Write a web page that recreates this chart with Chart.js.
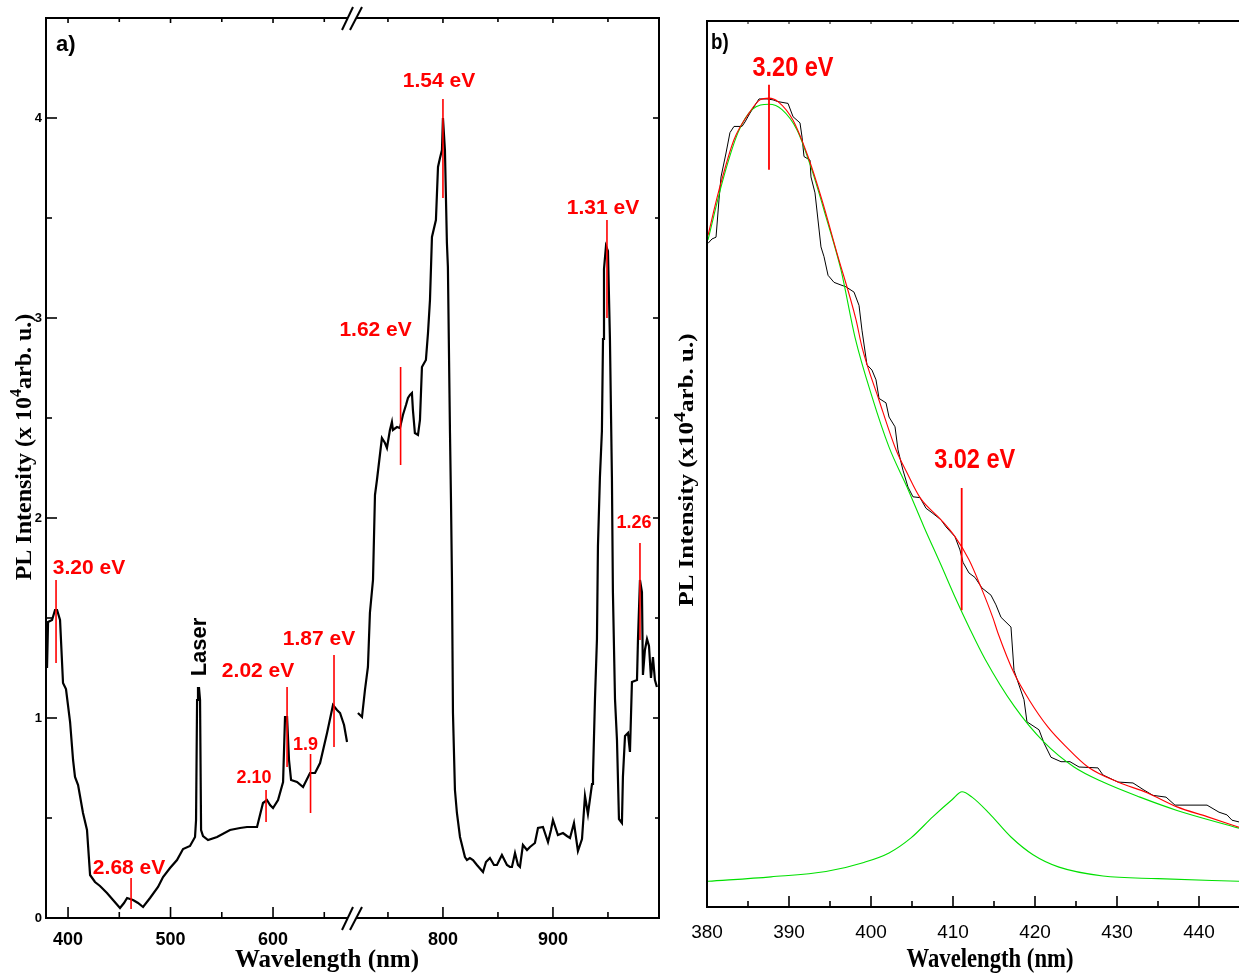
<!DOCTYPE html>
<html>
<head>
<meta charset="utf-8">
<script src="https://cdn.jsdelivr.net/npm/chart.js@4/dist/chart.umd.min.js"></script>
<style>
html,body{margin:0;padding:0;background:#fff;overflow:hidden;width:1239px;height:973px;}
#wa{position:absolute;left:0;top:0;width:680px;height:973px;}
#wb{position:absolute;left:670px;top:0;width:584px;height:973px;}
</style>
</head>
<body>
<div id="wa"><canvas id="ca"></canvas></div>
<div id="wb"><canvas id="cb"></canvas></div>
<script>
// ================= DATA: panel a (PL spectrum, x10^4 arb. u.) =================
const A_LEFT_NM = [379.5,380.5,384.4,387.3,389.3,392.2,395.1,398.0,402.0,404.9,
  406.8,409.8,414.6,418.5,421.5,426.3,431.2,438.0,443.9,450.7,
  454.6,457.6,463.4,468.3,473.2,480.0,487.8,492.7,499.5,506.3,
  512.2,519.0,523.9,524.9,525.9,526.8,527.8,528.8,529.8,531.7,
  536.6,545.4,558.0,567.8,574.6,584.4,590.2,594.1,597.1,600.0,
  604.9,609.8,611.7,613.7,615.6,617.6,623.4,629.3,636.1,641.0,
  645.9,652.7,658.5,662.4,665.4,669.3,672.2];
const A_LEFT_PL = [1.25,1.48,1.49,1.54,1.54,1.49,1.175,1.145,0.98,0.79,
  0.705,0.665,0.525,0.44,0.215,0.18,0.16,0.125,0.09,0.05,
  0.075,0.10,0.09,0.075,0.055,0.10,0.155,0.205,0.25,0.29,
  0.345,0.36,0.405,0.49,1.09,1.15,1.15,1.09,0.44,0.41,
  0.39,0.405,0.44,0.45,0.455,0.455,0.575,0.59,0.565,0.55,
  0.59,0.68,1.005,1.005,0.79,0.69,0.68,0.655,0.725,0.725,
  0.775,0.925,1.065,1.04,1.025,0.965,0.88];
const A_RIGHT_NM = [722.7,726.4,729.1,731.8,733.6,736.4,738.2,740.0,744.5,747.3,
  749.1,751.8,753.6,754.5,758.2,760.9,763.6,766.4,768.2,770.0,
  771.8,772.7,774.5,777.3,779.1,780.9,784.5,786.4,788.2,790.0,
  793.6,795.5,797.3,799.1,800.0,801.8,803.6,804.5,806.4,807.3,
  808.2,809.1,810.9,812.7,815.5,820.0,821.8,824.5,827.3,830.9,
  836.4,839.1,840.9,842.7,846.4,849.1,853.6,858.2,860.9,862.7,
  865.5,868.2,870.0,872.7,876.4,879.1,883.6,886.4,890.9,895.5,
  898.2,900.0,904.5,909.1,912.7,915.5,919.1,922.7,926.4,929.1,
  931.8,935.5,936.4,938.2,940.0,940.9,942.7,944.5,945.5,946.4,
  948.2,950.0,951.8,953.6,954.5,956.4,958.2,960.0,962.7,963.6,
  965.5,968.2,970.0,971.8,976.4,977.3,979.1,980.9,981.8,983.6,
  985.5,987.3,989.1,990.9,992.7,994.5];
const A_RIGHT_PL = [1.025,1.005,1.14,1.255,1.525,1.69,2.115,2.19,2.40,2.375,
  2.35,2.44,2.48,2.44,2.455,2.45,2.515,2.565,2.60,2.615,
  2.625,2.54,2.425,2.415,2.49,2.755,2.79,2.925,3.09,3.405,
  3.49,3.755,3.80,3.84,4.00,3.84,3.375,3.255,2.425,2.09,
  1.69,1.025,0.64,0.525,0.405,0.305,0.29,0.30,0.29,0.265,
  0.23,0.28,0.29,0.30,0.265,0.265,0.315,0.265,0.255,0.255,
  0.325,0.265,0.255,0.365,0.34,0.355,0.375,0.45,0.455,0.38,
  0.44,0.49,0.415,0.425,0.41,0.40,0.475,0.335,0.395,0.61,
  0.52,0.67,0.715,1.095,1.395,1.86,2.205,2.435,2.895,3.245,
  3.36,3.335,2.895,2.205,1.63,1.095,0.89,0.495,0.475,0.705,
  0.91,0.925,0.83,1.18,1.19,1.395,1.69,1.63,1.215,1.34,
  1.395,1.36,1.20,1.305,1.19,1.155];
const A_X_TICKS = [400,450,500,550,600,650,750,800,850,900,950];
const A_Y_MIN = 0, A_Y_MAX = 4.5, A_Y_STEP = 0.5;
// broken x axis: two wavelength ranges
const A_SEG_LEFT = [378.5, 675.1];
const A_SEG_RIGHT = [715.5, 996.4];
// peak markers
const A_ANN_TEXT = ['3.20 eV','2.68 eV','2.10','2.02 eV','1.9','1.87 eV','1.62 eV','1.54 eV','1.31 eV','1.26'];
const A_ANN_NM   = [388.3,461.5,593.2,613.7,636.6,659.5,761.5,800.0,949.1,979.1];
const A_ANN_TOP  = [1.69,0.20,0.64,1.155,0.82,1.315,2.755,4.095,3.49,1.875];
const A_ANN_BOT  = [1.275,0.045,0.48,0.755,0.525,0.855,2.265,3.60,3.00,1.39];

// ================= DATA: panel b (fit of the 3.20 eV band) =================
const B_DATA_NM = [380.12,380.61,381.10,381.46,381.71,382.32,382.80,383.29,384.27,384.63,
  385.24,386.34,387.32,388.05,388.66,389.88,390.49,391.34,391.59,391.83,
  392.56,392.68,393.17,393.90,394.27,394.76,395.49,396.34,396.95,397.93,
  398.54,398.90,399.51,400.12,400.61,400.98,401.83,402.20,402.93,403.29,
  403.90,404.51,405.12,405.98,406.71,407.44,408.54,409.15,410.24,410.85,
  411.22,411.95,412.68,413.54,414.63,415.24,415.85,417.07,417.44,418.66,
  419.02,420.49,421.10,421.95,423.17,424.27,425.37,427.68,428.29,430.12,
  431.95,433.29,434.39,435.98,437.07,440.98,442.44,443.41,444.02,444.88];
const B_DATA_PL = [7.49,7.54,7.56,7.98,8.24,8.51,8.74,8.81,8.81,8.86,
  8.96,9.12,9.12,9.11,9.09,9.07,8.92,8.85,8.69,8.47,
  8.43,8.24,8.06,7.45,7.34,7.13,7.05,7.02,7.00,6.94,
  6.79,6.51,6.12,6.06,5.95,5.74,5.69,5.53,5.42,5.16,
  4.93,4.74,4.63,4.62,4.50,4.45,4.37,4.29,4.18,4.03,
  3.89,3.77,3.72,3.60,3.52,3.41,3.27,3.16,2.67,2.34,
  2.09,2.00,1.85,1.69,1.64,1.64,1.58,1.57,1.49,1.41,
  1.40,1.32,1.26,1.24,1.15,1.15,1.07,1.04,0.98,0.96];
const B_FIT_NM = [380.12,381.46,383.29,385.12,386.46,387.56,388.66,390.49,392.32,394.02,
  395.85,398.17,398.90,400.98,403.05,404.39,405.98,408.54,410.24,411.95,
  413.41,414.88,415.49,417.44,419.27,421.59,423.78,426.46,430.12,433.66,
  437.32,440.98,444.88];
const B_FIT_PL = [7.58,8.09,8.66,8.96,9.11,9.13,9.09,8.88,8.47,7.98,
  7.38,6.63,6.32,5.72,5.16,4.90,4.62,4.37,4.18,3.92,
  3.61,3.26,3.09,2.64,2.34,2.03,1.81,1.58,1.41,1.29,
  1.13,1.02,0.90];
const B_G1_NM = [380.12,381.95,383.78,385.49,387.56,389.15,390.98,392.68,394.51,396.34,
  398.05,400.12,402.20,404.39,406.46,408.54,410.24,412.00,413.90,417.44,
  421.10,424.76,428.29,432.80,437.32,444.88];
const B_G1_PL = [7.53,8.21,8.74,9.00,9.06,9.00,8.77,8.35,7.79,7.19,
  6.43,5.76,5.19,4.74,4.29,3.86,3.50,3.15,2.80,2.27,
  1.86,1.58,1.41,1.24,1.09,0.89];
const B_G2_NM = [380.12,387.80,394.51,399.02,402.20,404.88,407.56,409.88,411.10,412.32,
  414.39,417.07,419.76,422.93,428.29,435.00,444.88];
const B_G2_PL = [0.29,0.34,0.40,0.50,0.61,0.78,1.02,1.21,1.30,1.24,
  1.06,0.79,0.59,0.45,0.35,0.32,0.29];
const B_X_TICKS = [380,385,390,395,400,405,410,415,420,425,430,435,440,445];
const B_X_MIN = 380, B_X_MAX = 445, B_Y_MIN = 0, B_Y_MAX = 10;
const B_ANN_TEXT = ['3.20 eV','3.02 eV'];
const B_ANN_NM   = [387.56, 411.06];
const B_ANN_TOP  = [9.28, 4.73];
const B_ANN_BOT  = [8.32, 3.35];

// ================= STYLE / LAYOUT =================
const A_ANN_DX   = [33,-2,-12,-29,-5,-15,-25,-4,-4,-6];
const A_ANN_DY   = [-12,-10,-12,-16,-9,-16,-37,-18,-12,-20];
const A_ANN_SIZE = [21,21,18,21,18,21,21,21,21,18];
const B_ANN_DX = [24, 13];
const B_ANN_DY = [-17, -28];
const SANS = "'Liberation Sans', Arial, Helvetica, sans-serif";
const SERIF = "'Liberation Serif', 'Times New Roman', serif";
const RED = '#ff0000', GREEN = '#00e000';
const B_SX = 0.84; // horizontal squeeze of panel b text

Chart.defaults.font.family = SANS;
Chart.defaults.color = '#000';

// ---------- broken linear scale ----------
class BrokenScale extends Chart.LinearScale {
  breakPixel() {
    const frac = 304 / 613;
    return this.left + frac * (this.right - this.left);
  }
  getPixelForValue(v) {
    if (v === null || v === undefined || isNaN(v)) return NaN;
    const brk = this.breakPixel();
    const mid = (A_SEG_LEFT[1] + A_SEG_RIGHT[0]) / 2;
    if (v <= mid) {
      return this.left + (v - A_SEG_LEFT[0]) / (A_SEG_LEFT[1] - A_SEG_LEFT[0]) * (brk - this.left);
    }
    return brk + (v - A_SEG_RIGHT[0]) / (A_SEG_RIGHT[1] - A_SEG_RIGHT[0]) * (this.right - brk);
  }
  getValueForPixel(p) {
    const brk = this.breakPixel();
    if (p <= brk) return A_SEG_LEFT[0] + (p - this.left) / (brk - this.left) * (A_SEG_LEFT[1] - A_SEG_LEFT[0]);
    return A_SEG_RIGHT[0] + (p - brk) / (this.right - brk) * (A_SEG_RIGHT[1] - A_SEG_RIGHT[0]);
  }
}
BrokenScale.id = 'broken';
BrokenScale.defaults = {};
Chart.register(BrokenScale);

const pairs = (xs, ys) => xs.map((x, i) => ({x: x, y: ys[i]}));

function seg(ctx, x1, y1, x2, y2) { ctx.beginPath(); ctx.moveTo(x1, y1); ctx.lineTo(x2, y2); ctx.stroke(); }
function text(ctx, s, x, y, font, color, opt) {
  opt = opt || {};
  ctx.save();
  ctx.translate(x, y);
  if (opt.rot) ctx.rotate(opt.rot);
  ctx.scale(opt.sx || 1, opt.sy || 1);
  ctx.font = font; ctx.fillStyle = color;
  ctx.textAlign = opt.align || 'center';
  ctx.textBaseline = opt.base || 'middle';
  ctx.fillText(s, 0, 0);
  ctx.restore();
}
function supText(ctx, cx, cy, parts, font, supFont, rise, rot, sy) {
  ctx.save();
  ctx.translate(cx, cy);
  ctx.rotate(rot);
  ctx.scale(1, sy);
  ctx.fillStyle = '#000';
  ctx.textBaseline = 'middle';
  ctx.textAlign = 'left';
  let total = 0;
  const w = parts.map(p => { ctx.font = p.sup ? supFont : font; const m = ctx.measureText(p.t).width; total += m; return m; });
  let x = -total / 2;
  parts.forEach((p, i) => {
    ctx.font = p.sup ? supFont : font;
    ctx.fillText(p.t, x, p.sup ? -rise : 0);
    x += w[i];
  });
  ctx.restore();
}

// ---------- panel a plugin ----------
const panelA = {
  id: 'panelA',
  afterDraw(chart) {
    const ctx = chart.ctx, a = chart.chartArea, xs = chart.scales.x, ys = chart.scales.y;
    ctx.save();
    ctx.strokeStyle = '#000';
    ctx.lineWidth = 2;
    ctx.strokeRect(a.left, a.top, a.right - a.left, a.bottom - a.top);
    ctx.lineWidth = 1.6;
    xs.ticks.forEach(t => {
      const px = xs.getPixelForValue(t.value);
      const major = t.value % 100 === 0;
      seg(ctx, px, a.bottom, px, a.bottom - (major ? 11 : 6));
      seg(ctx, px, a.top, px, a.top + (major ? 5 : 4));
    });
    ys.ticks.forEach(t => {
      if (t.value <= A_Y_MIN || t.value >= A_Y_MAX) return;
      const py = ys.getPixelForValue(t.value);
      const major = Number.isInteger(t.value);
      seg(ctx, a.left, py, a.left + (major ? 11 : 6), py);
      seg(ctx, a.right, py, a.right - (major ? 6 : 4), py);
    });
    // axis break marks
    const brk = xs.breakPixel();
    ctx.fillStyle = '#fff';
    [a.top, a.bottom].forEach(yy => {
      ctx.fillRect(brk - 2, yy - 2, 8, 4);
      ctx.strokeStyle = '#000';
      ctx.lineWidth = 2;
      seg(ctx, brk - 8, yy + 12, brk + 3, yy - 11);
      seg(ctx, brk, yy + 12, brk + 12, yy - 11);
    });
    ctx.restore();
    // peak labels
    A_ANN_TEXT.forEach((s, i) => {
      const px = xs.getPixelForValue(A_ANN_NM[i]);
      const py = ys.getPixelForValue(A_ANN_TOP[i]);
      text(ctx, s, px + A_ANN_DX[i], py + A_ANN_DY[i], 'bold ' + A_ANN_SIZE[i] + 'px ' + SANS, RED);
    });
    // Laser
    text(ctx, 'Laser', 200, 647, 'bold 22px ' + SANS, '#000', {rot: -Math.PI / 2});
    // panel letter
    text(ctx, 'a)', 56, 45, 'bold 22px ' + SANS, '#000', {align: 'left'});
    // axis titles
    text(ctx, 'Wavelength (nm)', 327, 967, 'bold 25px ' + SERIF, '#000', {base: 'alphabetic'});
    supText(ctx, 25, 447, [{t: 'PL Intensity (x 10'}, {t: '4', sup: true}, {t: 'arb. u.)'}],
      'bold 24px ' + SERIF, 'bold 16px ' + SERIF, 8, -Math.PI / 2, 1);
  }
};

// ---------- panel b plugin ----------
const panelB = {
  id: 'panelB',
  afterDraw(chart) {
    const ctx = chart.ctx, a = chart.chartArea, xs = chart.scales.x, ys = chart.scales.y;
    ctx.save();
    ctx.strokeStyle = '#000';
    ctx.lineWidth = 2;
    ctx.beginPath();
    ctx.moveTo(a.right + 2, a.top); ctx.lineTo(a.left, a.top); ctx.lineTo(a.left, a.bottom); ctx.lineTo(a.right + 2, a.bottom);
    ctx.stroke();
    ctx.lineWidth = 1.6;
    xs.ticks.forEach(t => {
      const px = xs.getPixelForValue(t.value);
      const major = t.value % 10 === 0;
      seg(ctx, px, a.bottom, px, a.bottom - (major ? 11 : 6));
      ctx.lineWidth = 1;
      seg(ctx, px, a.top, px, a.top + 3);
      ctx.lineWidth = 1.6;
    });
    ctx.restore();
    B_ANN_TEXT.forEach((s, i) => {
      const px = xs.getPixelForValue(B_ANN_NM[i]);
      const py = ys.getPixelForValue(B_ANN_TOP[i]);
      text(ctx, s, px + B_ANN_DX[i], py + B_ANN_DY[i], 'bold 28px ' + SANS, RED, {sx: B_SX});
    });
    text(ctx, 'b)', 41, 43, 'bold 22px ' + SANS, '#000', {align: 'left', sx: 0.85});
    text(ctx, 'Wavelength (nm)', 320, 967, 'bold 27px ' + SERIF, '#000', {base: 'alphabetic', sx: B_SX});
    supText(ctx, 18, 470, [{t: 'PL Intensity (x10'}, {t: '4', sup: true}, {t: 'arb. u.)'}],
      'bold 25px ' + SERIF, 'bold 20px ' + SERIF, 9, -Math.PI / 2, B_SX);
  }
};

// ---------- panel a chart ----------
const aDatasets = [];
A_ANN_NM.forEach((nm, i) => {
  aDatasets.push({data: [{x: nm, y: A_ANN_TOP[i]}, {x: nm, y: A_ANN_BOT[i]}],
    borderColor: RED, borderWidth: 1.6, pointRadius: 0, order: 1});
});
aDatasets.push({data: pairs(A_LEFT_NM, A_LEFT_PL), borderColor: '#000', borderWidth: 2.2, pointRadius: 0, tension: 0, order: 2});
aDatasets.push({data: pairs(A_RIGHT_NM, A_RIGHT_PL), borderColor: '#000', borderWidth: 2.2, pointRadius: 0, tension: 0, order: 2});

new Chart(document.getElementById('ca'), {
  type: 'line',
  data: {datasets: aDatasets},
  options: {
    responsive: true, maintainAspectRatio: false, animation: false, devicePixelRatio: 1,
    layout: {padding: {left: 0, right: 21, top: 18, bottom: 0}},
    plugins: {legend: {display: false}, tooltip: {enabled: false}},
    scales: {
      x: {
        type: 'broken', min: A_SEG_LEFT[0], max: A_SEG_RIGHT[1],
        grid: {display: false, drawTicks: false}, border: {display: false},
        afterBuildTicks: s => { s.ticks = A_X_TICKS.map(v => ({value: v})); },
        afterFit: s => { s.height = 55; },
        ticks: {autoSkip: false, maxRotation: 0, padding: 11, font: {size: 18, weight: 'bold'},
          callback: v => (v % 100 === 0 ? String(v) : '')}
      },
      y: {
        type: 'linear', min: A_Y_MIN, max: A_Y_MAX,
        grid: {display: false, drawTicks: false}, border: {display: false},
        afterFit: s => { s.width = 46; },
        ticks: {stepSize: A_Y_STEP, padding: 4, font: {size: 13, weight: 'bold'},
          callback: v => (Number.isInteger(v) ? String(v) : '')}
      }
    }
  },
  plugins: [panelA]
});

// ---------- panel b chart ----------
const bDatasets = [];
B_ANN_NM.forEach((nm, i) => {
  bDatasets.push({data: [{x: nm, y: B_ANN_TOP[i]}, {x: nm, y: B_ANN_BOT[i]}],
    borderColor: RED, borderWidth: 1.8, pointRadius: 0, order: 1});
});
bDatasets.push({data: pairs(B_FIT_NM, B_FIT_PL), borderColor: RED, borderWidth: 1.1, pointRadius: 0, cubicInterpolationMode: 'monotone', order: 2});
bDatasets.push({data: pairs(B_G1_NM, B_G1_PL), borderColor: GREEN, borderWidth: 1.1, pointRadius: 0, cubicInterpolationMode: 'monotone', order: 3});
bDatasets.push({data: pairs(B_G2_NM, B_G2_PL), borderColor: GREEN, borderWidth: 1.1, pointRadius: 0, cubicInterpolationMode: 'monotone', order: 3});
bDatasets.push({data: pairs(B_DATA_NM, B_DATA_PL), borderColor: '#000', borderWidth: 1, pointRadius: 0, tension: 0, order: 4});

new Chart(document.getElementById('cb'), {
  type: 'line',
  data: {datasets: bDatasets},
  options: {
    responsive: true, maintainAspectRatio: false, animation: false, devicePixelRatio: 1,
    layout: {padding: {left: 37, right: 0, top: 21, bottom: 0}},
    plugins: {legend: {display: false}, tooltip: {enabled: false}},
    scales: {
      x: {
        type: 'linear', min: B_X_MIN, max: B_X_MAX,
        grid: {display: false, drawTicks: false}, border: {display: false},
        afterBuildTicks: s => { s.ticks = B_X_TICKS.map(v => ({value: v})); },
        afterFit: s => { s.height = 66; },
        ticks: {autoSkip: false, maxRotation: 0, padding: 14, font: {size: 19},
          callback: v => (v % 10 === 0 ? String(v) : '')}
      },
      y: {type: 'linear', display: false, min: B_Y_MIN, max: B_Y_MAX}
    }
  },
  plugins: [panelB]
});
</script>
</body>
</html>
